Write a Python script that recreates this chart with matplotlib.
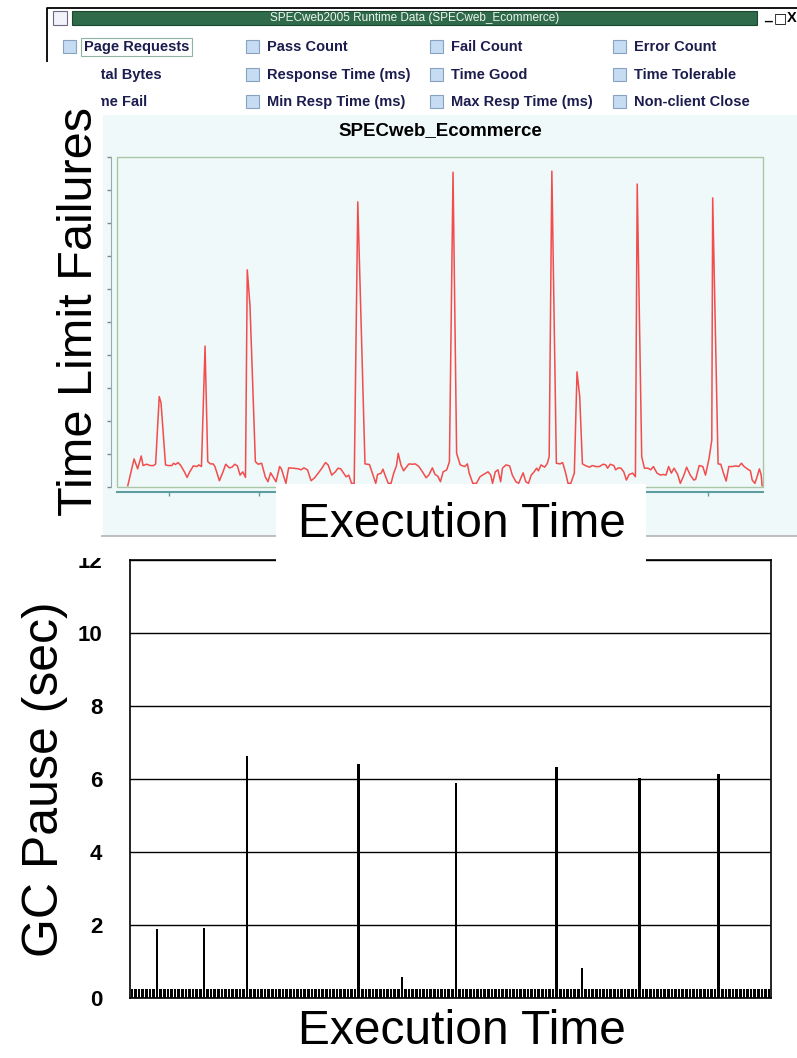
import numpy as np
import matplotlib.pyplot as plt
from matplotlib.patches import Rectangle
from matplotlib.lines import Line2D

# ---- data: SPECweb_Ecommerce time limit failures
fail_min = [5.4, 6.1, 6.5, 6.9, 7.1, 7.5, 7.9, 8.3, 8.5, 8.9,
            9.1, 9.6, 9.9, 10.3, 10.5, 10.7, 11.0, 11.3, 11.7, 12.0,
            12.3, 12.7, 13.1, 13.3, 13.6, 14.0, 14.3, 14.6, 14.9, 15.1,
            15.6, 16.0, 16.3, 16.7, 17.0, 17.3, 17.6, 17.9, 18.2, 18.5,
            18.7, 19.0, 19.6, 19.9, 20.3, 20.7, 21.0, 21.3, 21.9, 22.3, 22.5,
            23.0, 23.3, 23.8, 24.4, 24.7, 25.0, 25.4, 25.8, 26.2, 26.6,
            27.0, 27.4, 27.7, 28.1, 28.5, 28.8, 29.1, 29.4, 29.7, 30.0,
            30.3, 30.6, 31.0, 31.8, 32.3, 32.7, 33.0, 33.2, 33.6, 33.8,
            34.1, 34.4, 34.7, 35.0, 35.3, 35.5, 35.8, 36.1, 36.4, 36.7,
            37.1, 37.4, 37.8, 38.2, 38.6, 38.9, 39.3, 39.6, 39.9, 40.2,
            40.5, 40.9, 41.2, 41.6, 42.0, 42.4, 42.9, 43.2, 43.4, 43.8,
            44.2, 44.6, 45.0, 45.5, 45.8, 46.0, 46.3, 46.6, 46.9, 47.1,
            47.5, 47.9, 48.2, 48.6, 48.9, 49.4, 49.7, 50.0, 50.3, 50.6,
            50.9, 51.1, 51.4, 51.8, 52.1, 52.3, 52.6, 53.1, 53.5, 53.8,
            54.1, 54.4, 54.7, 55.1, 55.4, 55.7, 56.0, 56.4, 56.8, 57.1,
            57.5, 57.9, 58.3, 58.6, 58.8, 59.1, 59.5, 59.7, 60.0, 60.3,
            60.6, 60.9, 61.2, 61.6, 61.9, 62.1, 62.6, 62.9, 63.3, 63.6,
            63.9, 64.3, 64.7, 65.0, 65.3, 65.6, 65.9, 66.2, 66.6, 66.9,
            67.3, 67.6, 68.0, 68.4, 68.6, 69.0, 69.4, 69.7, 70.1, 70.4,
            70.5, 71.1, 71.4, 71.7, 72.0, 72.3, 72.7, 73.1, 73.4, 73.7,
            74.0, 74.4, 74.7, 74.9, 75.2, 75.5, 75.7, 75.9, 76.0]
fail_count = [0.4, 8.5, 5.5, 9.4, 6.5, 6.9, 6.5, 6.5, 7.0, 27.4,
              25.5, 6.7, 6.5, 6.5, 7.2, 6.8, 7.4, 6.5, 4.6, 2.9,
              4.6, 6.4, 6.2, 6.7, 6.2, 42.7, 7.7, 7.0, 7.0, 6.2,
              1.9, 4.6, 6.9, 5.8, 6.0, 6.9, 6.4, 3.6, 4.6, 2.9,
              65.8, 55.0, 7.7, 6.9, 7.2, 3.1, 1.6, 4.3, 1.6, 6.2, 5.5,
              1.1, 5.8, 5.7, 5.5, 5.2, 5.8, 5.2, 1.9, 2.8, 4.2,
              5.7, 7.4, 6.7, 3.6, 4.6, 5.7, 5.5, 4.3, 3.1, 3.6,
              1.1, 1.1, 86.4, 7.0, 6.8, 3.6, 1.1, 3.8, 4.2, 5.4,
              3.1, 1.1, 1.1, 4.2, 6.4, 10.2, 6.7, 4.9, 6.0, 7.0,
              6.9, 7.0, 6.2, 4.6, 2.8, 3.6, 5.8, 3.8, 3.3, 1.6,
              4.6, 5.2, 7.7, 95.4, 10.2, 6.7, 6.2, 7.0, 4.2, 1.1,
              1.1, 3.1, 3.8, 4.6, 3.6, 1.1, 4.6, 5.2, 1.6, 5.7,
              6.7, 6.4, 3.6, 1.6, 1.1, 4.3, 1.6, 1.1, 3.6, 4.5,
              5.7, 4.9, 6.7, 6.0, 7.2, 9.2, 95.7, 7.2, 7.0, 7.4,
              4.6, 1.1, 1.1, 4.2, 34.9, 27.4, 7.0, 6.4, 6.0, 6.5,
              6.2, 6.2, 6.9, 6.7, 5.7, 6.9, 6.5, 5.2, 5.8, 5.7,
              4.6, 2.1, 3.8, 4.2, 3.1, 91.8, 9.2, 5.7, 5.7, 5.2,
              6.2, 4.2, 3.6, 3.8, 3.6, 6.2, 4.2, 5.7, 3.8, 1.1,
              3.6, 6.0, 3.6, 2.1, 2.3, 6.5, 6.2, 3.6, 8.7, 14.2,
              87.6, 7.0, 6.9, 4.2, 1.8, 6.2, 6.2, 6.4, 6.2, 7.2,
              6.2, 5.4, 4.9, 2.1, 1.1, 3.6, 5.5, 3.6, 0.4]

# ---- data: GC pauses, one bar per collection
n_gc = 178
minor_gc_pause = 0.25
major_gc_index = [7, 20, 32, 63, 75, 90, 118, 125, 141, 163]
major_gc_pause = [1.90, 1.92, 6.62, 6.40, 0.58, 5.88, 6.32, 0.82, 6.02, 6.13]

checkbox_labels = [
    ["Page Requests", "Pass Count", "Fail Count", "Error Count"],
    ["Total Bytes", "Response Time (ms)", "Time Good", "Time Tolerable"],
    ["Time Fail", "Min Resp Time (ms)", "Max Resp Time (ms)", "Non-client Close"],
]

W, H = 797, 1058
plt.rcParams['font.family'] = ['Liberation Sans', 'DejaVu Sans']
fig = plt.figure(figsize=(W / 100, H / 100), dpi=100)


def box(x0, y0, x1, y1):
    # pixel box, origin top-left -> figure fraction
    return [x0 / W, 1 - y1 / H, (x1 - x0) / W, (y1 - y0) / H]


def fig_rect(x0, y0, x1, y1, **kw):
    l, b, w, h = box(x0, y0, x1, y1)
    fig.add_artist(Rectangle((l, b), w, h, transform=fig.transFigure, **kw))


def fig_text(x, y, s, **kw):
    return fig.text(x / W, 1 - y / H, s, **kw)


def fig_line(xs, ys, **kw):
    fig.add_artist(Line2D([x / W for x in xs], [1 - y / H for y in ys],
                          transform=fig.transFigure, **kw))


# ---- window chrome of the screenshot
fig_line([47, 47, 797], [62, 8, 8], color='black', lw=1.3)
fig_rect(53, 11, 67, 25, facecolor='#f2f2fa', edgecolor='#6a6a80', lw=0.8)
fig_rect(72, 11, 757, 25, facecolor='#2f6b4b', edgecolor='#1c4630', lw=0.8)
fig_text(415, 18, "SPECweb2005 Runtime Data (SPECweb_Ecommerce)", color='#eef4ee',
         fontsize=8.5, ha='center', va='center')
fig_text(768, 16, "_", fontsize=10, fontweight='bold', ha='center', va='center')
fig_text(780, 18, "\u25a1", fontsize=10, ha='center', va='center', family='DejaVu Sans')
fig_text(792, 18, "X", fontsize=10.5, fontweight='bold', ha='center', va='center')

row_y = [47, 75, 102]
box_x = [63, 246, 430, 613]
for r, labels in enumerate(checkbox_labels):
    for c, lab in enumerate(labels):
        fig_rect(box_x[c], row_y[r] - 7, box_x[c] + 13, row_y[r] + 6,
                 facecolor='#c6dcf2', edgecolor='#8aa2c2', lw=0.8)
        fig_text(box_x[c] + 21, row_y[r], lab, fontsize=10.5, fontweight='bold',
                 color='#1c1c4e', ha='left', va='center')
fig_rect(81, 38, 192, 56, fill=False, edgecolor='#8fb3a0', lw=0.8)

# chart panel background
fig_rect(103, 115, 797, 536, facecolor='#eff9f9', edgecolor='none', zorder=-1)
fig_line([100, 797], [536, 536], color='#b4b4b4', lw=1.2)

# ---- top chart: time limit failures
ax1 = fig.add_axes(box(117, 157, 763, 487), facecolor='#eff9f9')
ax1.plot(fail_min, fail_count, color='#f24c4c', lw=1.1)
ax1.set_xlim(4.2, 76.1)
ax1.set_ylim(0, 100)
ax1.set_xticks(np.arange(10, 71, 10))
ax1.set_yticks(np.arange(0, 101, 10))
ax1.tick_params(labelleft=False, labelbottom=False, length=3, width=1)
ax1.tick_params(axis='y', colors='#7a8a96')
ax1.tick_params(axis='x', colors='#5f9ea0')
for s in ['top', 'right']:
    ax1.spines[s].set_visible(False)
ax1.spines['left'].set_position(('outward', 4.3))
ax1.spines['left'].set_color('#9aa8b0')
ax1.spines['bottom'].set_position(('outward', 3.6))
ax1.spines['bottom'].set_color('#5f9ea0')
ax1.spines['bottom'].set_linewidth(1.5)
ax1.add_patch(Rectangle((0, 0), 1, 1, transform=ax1.transAxes, fill=False,
                        edgecolor='#a9c6a9', lw=1.0, clip_on=False))
ax1.set_title("SPECweb_Ecommerce", fontsize=13.5, fontweight='bold', pad=16)

# ---- bottom chart: GC pauses
gc_pause = [minor_gc_pause] * n_gc
for i, p in zip(major_gc_index, major_gc_pause):
    gc_pause[i] = p

ax2 = fig.add_axes(box(130, 560, 771, 998))
ax2.bar(range(n_gc), gc_pause, width=0.72, color='black', linewidth=0)
ax2.set_xlim(-0.5, n_gc - 0.5)
ax2.set_ylim(0, 12)
ax2.set_yticks(np.arange(0, 13, 2))
ax2.set_xticks([])
ax2.tick_params(axis='y', length=0, pad=20, labelsize=16)
for lab in ax2.get_yticklabels():
    lab.set_fontweight('bold')
ax2.set_axisbelow(True)
ax2.yaxis.grid(True, color='black', lw=1.0)
for s in ax2.spines.values():
    s.set_color('black')
    s.set_linewidth(1.2)

# ---- white label boxes pasted over the screenshot
fig_rect(0, 62, 101, 545, facecolor='white', edgecolor='none', zorder=5)
fig_rect(276, 484, 646, 562, facecolor='white', edgecolor='none', zorder=5)
fig_rect(55, 538, 128, 558, facecolor='white', edgecolor='none', zorder=5)

fig_text(80, 312, "Time Limit Failures", rotation=90, fontsize=35,
         ha='center', va='center', zorder=6)
fig_text(462, 524, "Execution Time", fontsize=34.5, ha='center', va='center', zorder=6)
fig_text(45, 779, "GC Pause (sec)", rotation=90, fontsize=36,
         ha='center', va='center', zorder=6)
fig_text(462, 1031, "Execution Time", fontsize=34.5, ha='center', va='center', zorder=6)

fig.savefig("out.png", dpi=100)
